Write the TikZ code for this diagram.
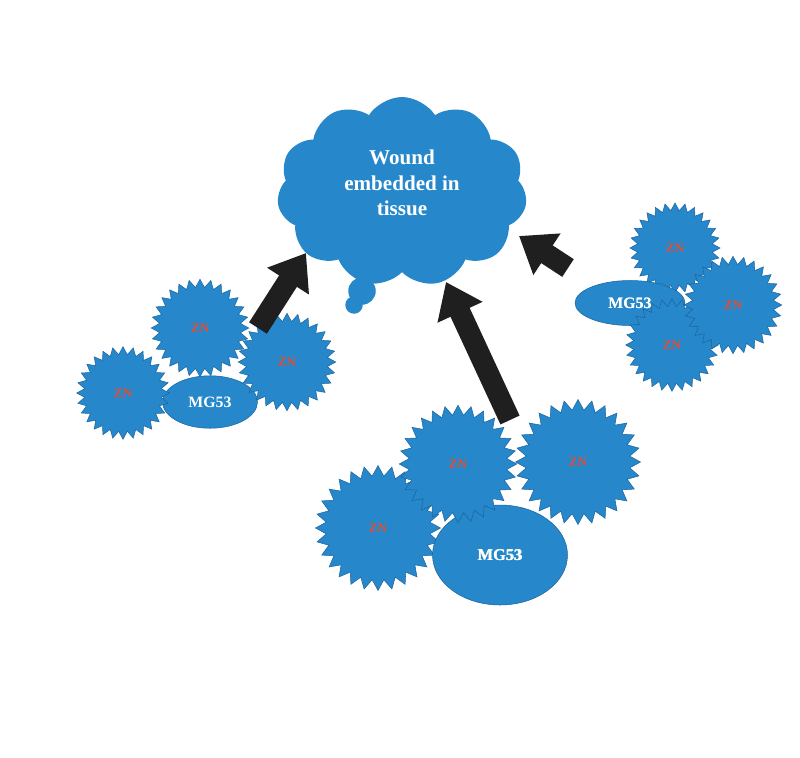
\documentclass[tikz,border=0pt]{standalone}
\usepackage{fontspec}
\setmainfont{Liberation Serif}
\usepackage{tikz}
\usetikzlibrary{shapes.geometric,shapes.symbols,arrows.meta}

\definecolor{woundblue}{RGB}{38,136,202}
\definecolor{edgeblue}{RGB}{28,100,160}
\definecolor{znred}{RGB}{222,78,52}

\begin{document}
\begin{tikzpicture}[
    x=0.02cm, y=-0.02cm,
    zn/.style={star, star points=28, star point ratio=1.2, fill=woundblue, draw=edgeblue,
               line width=0.3pt, inner sep=0pt, text=znred, font=\bfseries\fontsize{7.5}{8}\selectfont},
    mg/.style={ellipse, fill=woundblue, draw=edgeblue, line width=0.3pt, inner sep=0pt,
               text=white, font=\bfseries\fontsize{9}{10}\selectfont},
    bubble/.style={circle, fill=woundblue, inner sep=0pt},
    push/.style={line width=12pt, black!88,
                 -{Triangle[width=27pt,length=19pt]}}
]
\useasboundingbox (0,0) rectangle (800,757);

% Wound (cloud) with its small tail bubbles
\node[bubble, minimum size=0.55cm] (tailA) at (362,291) {};
\node[bubble, minimum size=0.35cm] (tailB) at (354,305) {};
\node[cloud, cloud puffs=11, cloud puff arc=115, aspect=1.3, fill=woundblue,
      minimum width=5.0cm, minimum height=3.8cm, inner sep=0pt]
     (wound) at (402,192) {};
\node[text=white, align=center, font=\bfseries\fontsize{12}{14.5}\selectfont]
     (woundtxt) at (402,183) {Wound\\embedded in\\tissue};

% Left group
\node[mg, minimum width=1.9cm, minimum height=1.05cm] (mgL) at (210,402) {};
\node[zn, minimum size=1.85cm] (znLa) at (123,393) {ZN};
\node[zn, minimum size=1.95cm] (znLb) at (200,328) {ZN};
\node[zn, minimum size=1.95cm] (znLc) at (287,362) {ZN};
\node[text=white, font=\bfseries\fontsize{9}{10}\selectfont] at (mgL.center) {MG53};

% Right group
\node[zn, minimum size=1.8cm]  (znRa) at (675,248) {ZN};
\node[mg, minimum width=2.2cm, minimum height=0.9cm] (mgR) at (630,303) {MG53};
\node[zn, minimum size=1.85cm] (znRc) at (672,345) {ZN};
\node[zn, minimum size=1.95cm] (znRb) at (733,305) {ZN};
\node[text=white, font=\bfseries\fontsize{9}{10}\selectfont] at (mgR.center) {MG53};

% Bottom group
\node[zn, minimum size=2.5cm]  (znBa) at (378,528) {ZN};
\node[zn, minimum size=2.5cm]  (znBc) at (578,462) {ZN};
\node[mg, minimum width=2.7cm, minimum height=2.0cm] (mgB) at (500,555) {MG53};
\node[zn, minimum size=2.35cm] (znBb) at (458,464) {ZN};
\node[text=white, font=\bfseries\fontsize{9.5}{10}\selectfont] at (mgB.center) {MG53};

% Arrows towards the wound
\coordinate (tailL) at (258,328);
\coordinate (tipL)  at (306,253);
\coordinate (tailB) at (510,420);
\coordinate (tipB)  at (446,282);
\coordinate (tailR) at (568,268);
\coordinate (tipR)  at (519,236);
\draw[push] (tailL) -- (tipL);
\draw[push] (tailB) -- (tipB);
\draw[push] (tailR) -- (tipR);
\end{tikzpicture}
\end{document}
